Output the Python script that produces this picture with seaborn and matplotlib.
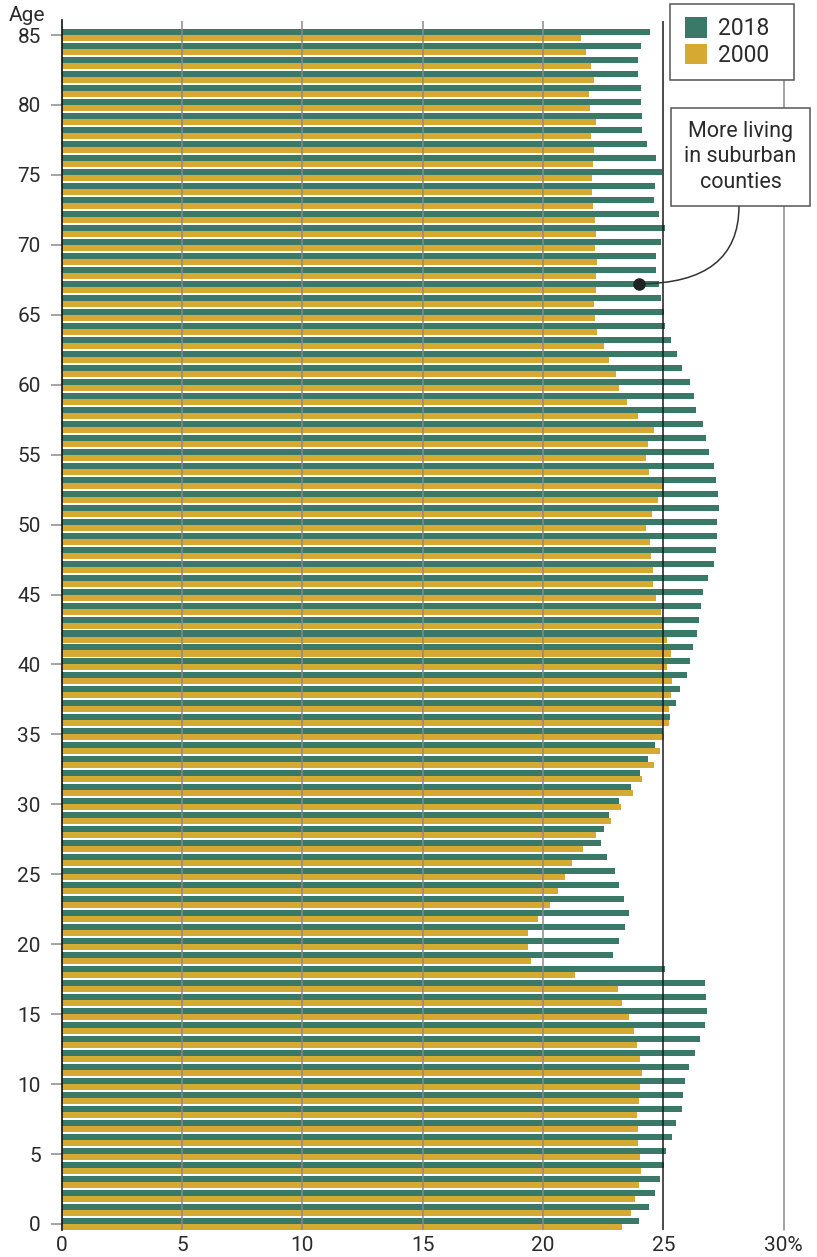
import numpy as np
import pandas as pd
import matplotlib
matplotlib.use('Agg')
import matplotlib.pyplot as plt
from matplotlib.patches import Patch, Rectangle
import seaborn as sns

# share of each age group living in suburban counties (%)
ages = list(range(86))
share_2018 = [23.99, 24.40, 24.65, 24.86, 25.03, 25.11, 25.36, 25.53, 25.78, 25.82,
              25.90, 26.07, 26.32, 26.52, 26.73, 26.81, 26.77, 26.73, 25.07, 22.91,
              23.16, 23.41, 23.57, 23.37, 23.16, 22.99, 22.66, 22.41, 22.53, 22.74,
              23.16, 23.66, 24.03, 24.36, 24.65, 24.99, 25.28, 25.53, 25.69, 25.98,
              26.11, 26.23, 26.40, 26.48, 26.57, 26.65, 26.86, 27.11, 27.19, 27.23,
              27.23, 27.31, 27.27, 27.19, 27.11, 26.90, 26.77, 26.65, 26.36, 26.27,
              26.11, 25.78, 25.57, 25.32, 25.07, 25.03, 24.90, 24.82, 24.70, 24.70,
              24.90, 25.07, 24.82, 24.61, 24.65, 24.94, 24.70, 24.32, 24.11, 24.11,
              24.07, 24.07, 23.95, 23.95, 24.07, 24.45]
share_2000 = [23.28, 23.66, 23.82, 23.99, 24.07, 24.03, 23.95, 23.95, 23.91, 23.99,
              24.03, 24.11, 24.03, 23.91, 23.78, 23.57, 23.28, 23.12, 21.33, 19.50,
              19.38, 19.38, 19.79, 20.29, 20.62, 20.91, 21.20, 21.66, 22.20, 22.83,
              23.24, 23.74, 24.11, 24.61, 24.86, 25.03, 25.24, 25.24, 25.32, 25.36,
              25.15, 25.32, 25.15, 24.99, 24.90, 24.70, 24.57, 24.57, 24.49, 24.45,
              24.28, 24.53, 24.78, 25.03, 24.40, 24.28, 24.36, 24.61, 23.95, 23.49,
              23.16, 23.03, 22.74, 22.53, 22.24, 22.16, 22.12, 22.20, 22.20, 22.24,
              22.16, 22.20, 22.16, 22.08, 22.04, 22.04, 22.08, 22.12, 21.99, 22.20,
              21.95, 21.91, 22.12, 21.99, 21.79, 21.58]
years = ['2018', '2000']
x_ticks = [0, 5, 10, 15, 20, 25, 30]
x_labels = ['0', '5', '10', '15', '20', '25', '30%']
y_ticks = list(range(0, 86, 5))

GREEN = '#3a7868'
GOLD = '#d6a933'
TXT = '#2b2b2b'

df = pd.DataFrame({
    'age': ages * 2,
    'share': share_2018 + share_2000,
    'year': [years[0]] * len(ages) + [years[1]] * len(ages),
})

sns.set_style('white')
plt.rcParams['font.family'] = ['Roboto', 'DejaVu Sans']

W, H = 817, 1257
fig = plt.figure(figsize=(W / 100, H / 100), dpi=100)
ax = fig.add_axes([61.6 / W, 1 - 1230 / H, (783.7 - 61.6) / W, (1230 - 20.5) / H])

order = ages[::-1]
sns.barplot(data=df, x='share', y='age', hue='year', order=order, hue_order=years,
            palette={'2018': GREEN, '2000': GOLD}, orient='h', width=0.86,
            errorbar=None, saturation=1, linewidth=0, legend=False, ax=ax)

ax.set_ylim(85.43, -1.04)
ax.set_xlim(0, 30)
ax.set_xlabel('')
ax.set_ylabel('')

ax.set_yticks([order.index(a) for a in y_ticks])
ax.set_yticklabels([str(a) for a in y_ticks])
ax.set_xticks(x_ticks)
ax.set_xticklabels(x_labels)
ax.tick_params(axis='y', length=8, width=1.1, color='#8a8a8a', pad=7,
               labelsize=15, labelcolor=TXT, left=True)
ax.tick_params(axis='x', length=0, pad=4, labelsize=15, labelcolor=TXT)

for s in ['top', 'right', 'bottom']:
    ax.spines[s].set_visible(False)
ax.spines['left'].set_color('#111111')
ax.spines['left'].set_linewidth(1.2)
ax.grid(False)

for v in [5, 10, 15, 20]:
    ax.axvline(v, color='#8a8a8a', lw=1.1, zorder=3)
ax.axvline(25, color='#1a1a1a', lw=1.1, zorder=3)
ax.axvline(30, color='#8a8a8a', lw=1.1, zorder=3, clip_on=False)

fig.text(27 / W, 1 - 21 / H, 'Age', ha='center', va='baseline', fontsize=15, color=TXT)

# legend box
fig.patches.append(Rectangle((670 / W, 1 - 80 / H), 124 / W, 76 / H,
                             transform=fig.transFigure, facecolor='white',
                             edgecolor='#555555', lw=1.1, zorder=5))
handles = [Patch(facecolor=GREEN, edgecolor='none'), Patch(facecolor=GOLD, edgecolor='none')]
leg = fig.legend(handles, years, loc='upper left', bbox_to_anchor=(685 / W, 1 - 17 / H),
                 bbox_transform=fig.transFigure, frameon=False, fontsize=16.5,
                 handlelength=0.95, handleheight=1.0, handletextpad=0.5,
                 labelspacing=0.15, borderpad=0, borderaxespad=0)
leg.set_zorder(6)
for t in leg.get_texts():
    t.set_color(TXT)

# annotation box
fig.patches.append(Rectangle((671 / W, 1 - 206 / H), 139 / W, 98 / H,
                             transform=fig.transFigure, facecolor='white',
                             edgecolor='#555555', lw=1.1, zorder=5))
fig.text(740.5 / W, 1 - 157 / H, 'More living\nin suburban\ncounties', ha='center',
         va='center', multialignment='center', fontsize=15.5, color=TXT,
         linespacing=1.25, zorder=6)

dot_y = order.index(67) - 0.215
ax.annotate('', xy=(24.0, dot_y), xycoords='data',
            xytext=(739 / W, 1 - 206 / H), textcoords='figure fraction',
            arrowprops=dict(arrowstyle='-', color='#333333', lw=1.1,
                            connectionstyle='angle3,angleA=90,angleB=0',
                            shrinkA=0, shrinkB=0),
            annotation_clip=False, zorder=4)
ax.plot([24.0], [dot_y], 'o', color='#222222', ms=8, zorder=5)

fig.savefig('out.png', dpi=100)
